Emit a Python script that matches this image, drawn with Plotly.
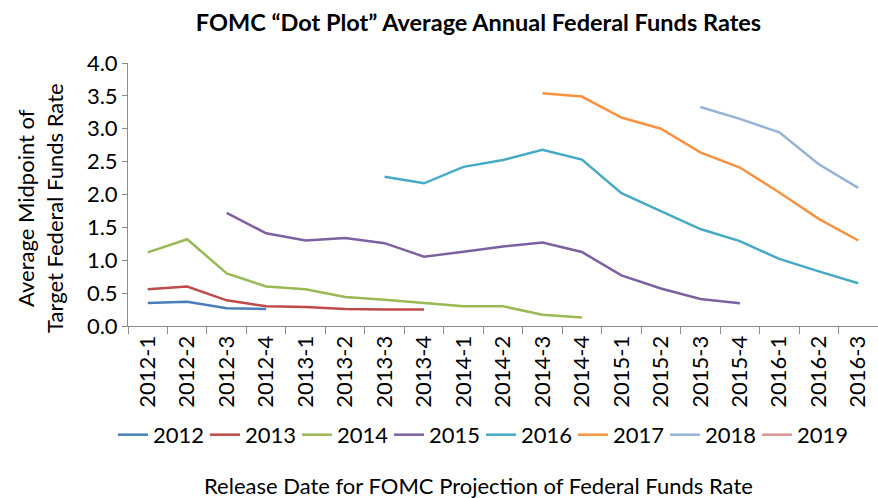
import plotly.graph_objects as go

categories = ["2012-1", "2012-2", "2012-3", "2012-4", "2013-1", "2013-2", "2013-3", "2013-4",
              "2014-1", "2014-2", "2014-3", "2014-4", "2015-1", "2015-2", "2015-3", "2015-4",
              "2016-1", "2016-2", "2016-3"]
N = None
s2012 = [0.35, 0.37, 0.27, 0.26] + [N] * 15
s2013 = [0.56, 0.60, 0.39, 0.30, 0.29, 0.26, 0.25, 0.25] + [N] * 11
s2014 = [1.12, 1.32, 0.80, 0.60, 0.56, 0.44, 0.40, 0.345, 0.30, 0.30, 0.17, 0.13] + [N] * 7
s2015 = [N, N, 1.72, 1.41, 1.30, 1.34, 1.26, 1.055, 1.13, 1.21, 1.27, 1.125, 0.77, 0.57, 0.41, 0.345] + [N] * 3
s2016 = [N] * 6 + [2.27, 2.17, 2.42, 2.525, 2.68, 2.53, 2.02, 1.75, 1.475, 1.29, 1.02, 0.83, 0.65]
s2017 = [N] * 10 + [3.54, 3.49, 3.17, 3.00, 2.64, 2.41, 2.03, 1.63, 1.30]
s2018 = [N] * 14 + [3.33, 3.15, 2.945, 2.46, 2.10]
s2019 = [N] * 19

series = [("2012", s2012, "#4A7EBB"), ("2013", s2013, "#BE4B48"), ("2014", s2014, "#98B954"),
          ("2015", s2015, "#7D60A0"), ("2016", s2016, "#46AAC5"), ("2017", s2017, "#F69240"),
          ("2018", s2018, "#95B3D7"), ("2019", s2019, "#D99694")]

FONT = "Lato"
fig = go.Figure()
for name, vals, color in series:
    fig.add_trace(go.Scatter(x=categories, y=vals, name=name, mode="lines",
                             line=dict(color=color, width=2.5), connectgaps=False))

fig.update_layout(
    width=878, height=498,
    margin=dict(l=128, r=0, t=63, b=172, autoexpand=False),
    paper_bgcolor="white", plot_bgcolor="white",
    font=dict(family=FONT, color="black", size=22),
    title=dict(text="<b>FOMC “Dot Plot” Average Annual Federal Funds Rates</b>",
               x=0.545, xanchor="center", y=0.955, yanchor="middle",
               font=dict(size=23.5, family=FONT), automargin=False),
    showlegend=True,
    legend=dict(orientation="h", x=-0.02, xanchor="left", y=-0.414, yanchor="middle",
                font=dict(size=22, family=FONT), entrywidth=47, entrywidthmode="pixels",
                itemwidth=30, traceorder="normal"),
    xaxis=dict(type="category", showline=True, linecolor="#8C8C8C", linewidth=1,
               ticks="outside", tickson="boundaries", ticklen=7, tickcolor="#8C8C8C",
               tickangle=-90, tickfont=dict(size=22), showgrid=False, automargin=False,
               range=[-0.5, 18.5]),
    yaxis=dict(range=[0, 4], dtick=0.5, tickformat=".1f", showline=True,
               linecolor="#8C8C8C", linewidth=1, ticks="outside", ticklen=5,
               tickcolor="#8C8C8C", showgrid=False, zeroline=False, automargin=False,
               tickfont=dict(size=22)),
    annotations=[
        dict(text="Release Date for FOMC Projection of Federal Funds Rate",
             xref="paper", yref="paper", x=0.4667, y=-0.605,
             xanchor="center", yanchor="middle", showarrow=False,
             font=dict(size=22, family=FONT)),
        dict(text="Average Midpoint of<br>Target Federal Funds Rate",
             xref="paper", yref="paper", x=-0.1173, y=0.4487, textangle=-90,
             xanchor="center", yanchor="middle", showarrow=False,
             font=dict(size=22, family=FONT)),
    ],
)
fig.write_html("out.html", config={"displayModeBar": False},
               post_script="document.body.style.margin='0px';")
